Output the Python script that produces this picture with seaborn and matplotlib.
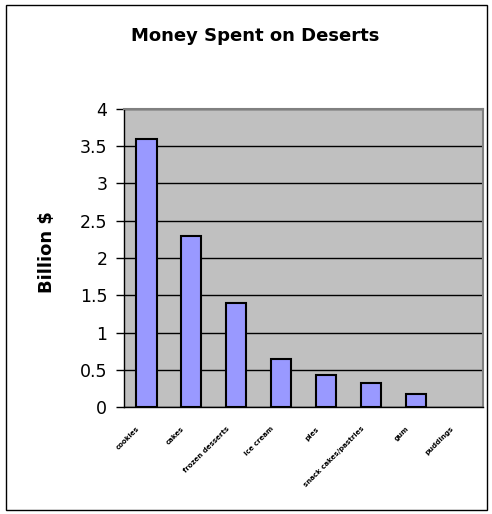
import matplotlib
matplotlib.use("Agg")
import matplotlib.pyplot as plt
import matplotlib.transforms as mtransforms
from matplotlib.patches import Rectangle
import seaborn as sns
import numpy as np

# data
categories = ["cookies", "cakes", "frozen desserts", "ice cream", "pies",
              "snack cakes/pastries", "gum", "puddings"]
spending = [3.6, 2.3, 1.4, 0.64, 0.43, 0.32, 0.18, 0.0]

BAR_COLOR = "#9999FF"
BG_GRAY = "#C0C0C0"

sns.set_style("white")
plt.rcParams["font.family"] = ["DejaVu Sans"]
plt.rcParams["text.color"] = "black"
plt.rcParams["axes.labelcolor"] = "black"
plt.rcParams["xtick.color"] = "black"
plt.rcParams["ytick.color"] = "black"

fig = plt.figure(figsize=(4.92, 5.14), dpi=100)
ax = fig.add_axes([124/492, 107/514, 359/492, 298/514])
ax.set_facecolor(BG_GRAY)

sns.barplot(x=categories, y=spending, color=BAR_COLOR, saturation=1,
            width=0.45, edgecolor="black", linewidth=1.5, ax=ax, zorder=3)

# a zero value draws no bar
for p in ax.patches:
    if p.get_height() == 0:
        p.set_visible(False)

ax.set_ylim(0, 4)
ax.set_xlim(-0.5, len(categories) - 0.5)
ax.set_yticks(np.arange(0, 4.01, 0.5))
ax.set_yticklabels(["0", "0.5", "1", "1.5", "2", "2.5", "3", "3.5", "4"])
ax.yaxis.grid(True, color="black", linewidth=1)
ax.set_axisbelow(True)

# tick marks between categories, labels at category centres
ax.set_xticks(np.arange(-0.5, len(categories)), minor=True)
ax.tick_params(axis="x", which="minor", length=5, width=1, color="black",
               direction="out")
ax.tick_params(axis="x", which="major", length=0, pad=15)
ax.tick_params(axis="y", length=6, width=1, color="black", direction="out",
               labelsize=12.5, pad=6, left=True)

for lab in ax.get_xticklabels():
    lab.set_rotation(45)
    lab.set_ha("right")
    lab.set_va("center")
    lab.set_rotation_mode("anchor")
    lab.set_fontsize(5)
    lab.set_fontweight("bold")
    lab.set_transform(lab.get_transform() +
                      mtransforms.ScaledTranslation(-0.08, 0, fig.dpi_scale_trans))

for side in ["top", "right"]:
    ax.spines[side].set_color("#808080")
    ax.spines[side].set_linewidth(1.5)
for side in ["left", "bottom"]:
    ax.spines[side].set_color("black")
    ax.spines[side].set_linewidth(1)

ax.set_xlabel("")
ax.set_ylabel("Billion $", fontsize=13, fontweight="bold")
ax.yaxis.set_label_coords(-0.19, 0.52)

fig.text(255/492, 1 - 36/514, "Money Spent on Deserts", fontsize=13,
         fontweight="bold", ha="center", va="center")

# outer chart border
fig.patches.append(Rectangle((6/492, 4/514), 481/492, 505/514, fill=False,
                             edgecolor="black", linewidth=1,
                             transform=fig.transFigure, figure=fig))

fig.savefig("out.png", dpi=100)
